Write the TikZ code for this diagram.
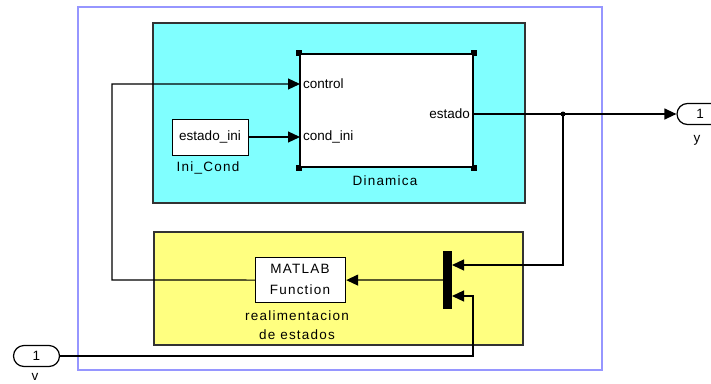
\documentclass[tikz,border=0pt]{standalone}
\usepackage{fontspec}
\setmainfont{Liberation Sans}
\newfontfamily\spaced[LetterSpace=9]{Liberation Sans}
\usetikzlibrary{arrows.meta,shapes.misc}
\definecolor{outerblue}{RGB}{150,150,255}
\definecolor{subcyan}{RGB}{128,255,255}
\definecolor{subyellow}{RGB}{255,255,128}
\tikzset{
  every node/.style={font=\fontsize{13.5}{16}\selectfont, inner sep=0pt},
  wire/.style={draw=black, line width=1.2pt},
  sig/.style={wire, -{Triangle[length=12pt,width=11pt]}},
  block/.style={draw=black, fill=white, line width=1.2pt, anchor=north west},
  area/.style={draw=black!80, line width=1.2pt},
  blabel/.style={font=\spaced\fontsize{13.5}{16}\selectfont},
  port/.style={draw=black, fill=white, line width=1.2pt, rounded rectangle,
    minimum width=46pt, minimum height=21pt},
  handle/.style={fill=black, minimum size=6pt}
}
\begin{document}
\begin{tikzpicture}[x=1pt,y=-1pt]
\useasboundingbox (0,0) rectangle (711,383);
% frame and shaded subsystems
\draw[outerblue, line width=1.5pt] (78,7) rectangle (602,370);
\draw[area, fill=subcyan] (153,23) rectangle (525,203);
\draw[area, fill=subyellow] (154,232) rectangle (523,345);

% subsystem block with its corner handles
\node[block, minimum width=173pt, minimum height=113pt] (din) at (300,54) {};
\node[handle] at (299,53) {};
\node[handle] at (474,53) {};
\node[handle] at (299,168) {};
\node[handle] at (474,168) {};
\fill[white] (300.5,54.5) rectangle (302.5,56.5);
\fill[white] (470.5,54.5) rectangle (472.5,56.5);
\fill[white] (300.5,164.5) rectangle (302.5,166.5);
\fill[white] (470.5,164.5) rectangle (472.5,166.5);
\draw[line width=1.2pt] (300,54) rectangle (473,167);

\node[anchor=west] (pctl) at (303,84) {control};
\node[anchor=west] (pci) at (303,137) {cond\_ini};
\node[anchor=east] (pest) at (470,114) {estado};
\node[blabel] (dinlab) at (385,181) {Dinamica};

\node[block, minimum width=76pt, minimum height=36pt] (ini) at (172,119) {};
\node at (210,137) {estado\_ini};
\node[blabel] (inilab) at (208,168) {Ini\_Cond};

\node[block, minimum width=90pt, minimum height=45pt] (mf) at (255,257) {};
\node[blabel] at (300,269) {MATLAB};
\node[blabel] at (300,290) {Function};
\node[blabel] at (297,316) {realimentacion};
\node[blabel] at (297,335) {de estados};

\node[fill=black, minimum width=9pt, minimum height=58pt, anchor=north west] (mux) at (443,251) {};

\node[port] (yout) at (700,114) {1};
\node[anchor=base] at (697,142) {y};
\node[port] (vin) at (36.5,356) {1};
\node[anchor=base] at (35,380) {v};

% junction and bends
\coordinate (c1) at (300,84);
\coordinate (c2) at (300,137);
\coordinate (e) at (473,114);
\coordinate (br) at (563,114);
\coordinate (m1) at (452,265);
\coordinate (m2) at (452,296);
\coordinate (mo) at (443,280);
\fill (br) circle (2.5pt);

% signals
\draw[sig] (e) -- (yout.west);
\draw[sig] (br) |- (m1);
\draw[sig] (vin.east) -- (473,356) |- (m2);
\draw[sig] (mo) -- (mf.east);
\draw[sig] (mf.west) -- (112,280) |- (c1);
\draw[sig] (ini.east |- c2) -- (c2);
\end{tikzpicture}
\end{document}
